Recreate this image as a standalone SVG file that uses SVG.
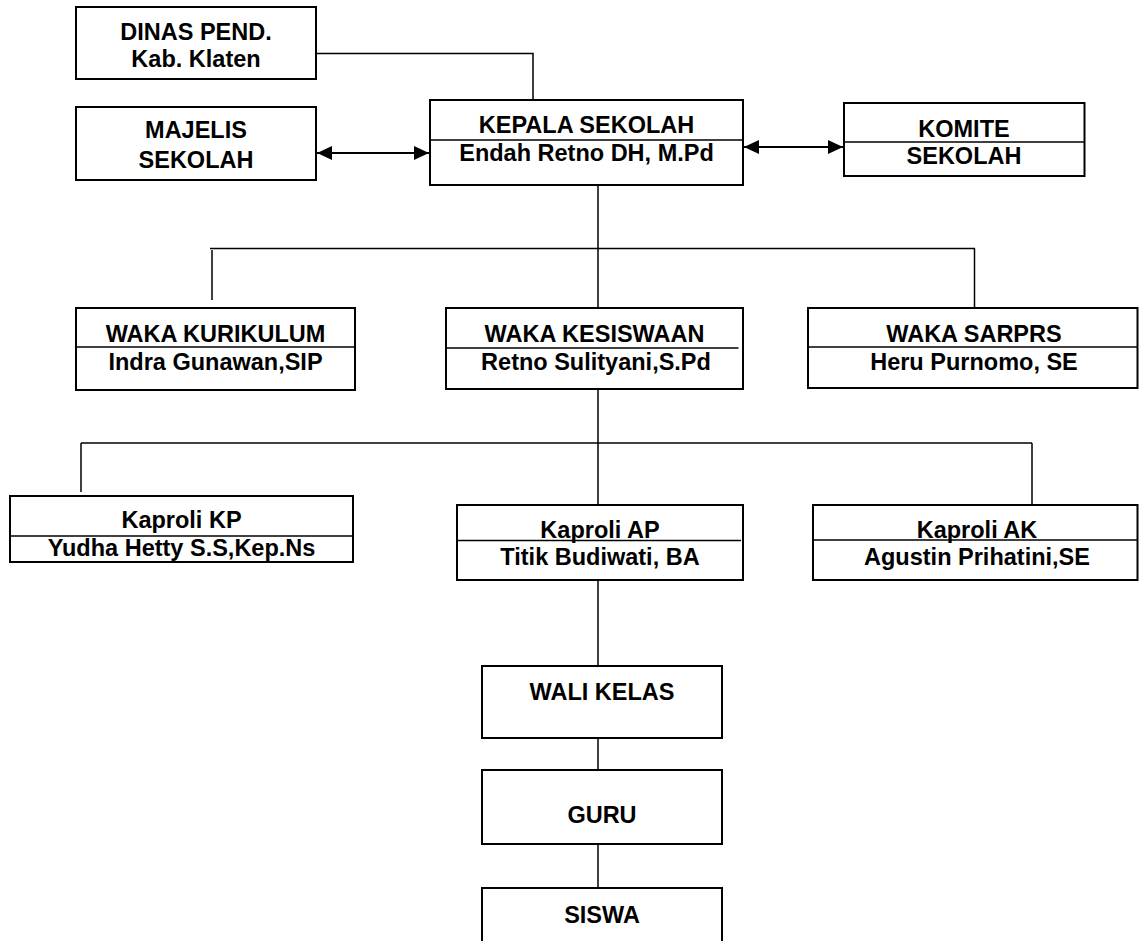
<svg xmlns="http://www.w3.org/2000/svg" width="1139" height="941" viewBox="0 0 1139 941">
<style>
.box{fill:#fff;stroke:#000;stroke-width:2}
.div{stroke:#000;stroke-width:1.3;fill:none}
.con{stroke:#000;stroke-width:1.5;fill:none}
.arr{stroke:#000;stroke-width:2;fill:none}
text{font-family:"Liberation Sans",Arial,sans-serif;font-weight:bold;font-size:23.5px;fill:#000;text-anchor:middle}
</style>
<defs>
<marker id="ah" viewBox="0 0 15 14" refX="15" refY="7" markerWidth="15" markerHeight="14" markerUnits="userSpaceOnUse" orient="auto-start-reverse">
<path d="M0,0 L15,7 L0,14 Z" fill="#000"/>
</marker>
</defs>
<rect width="1139" height="941" fill="#fff"/>
<g id="connectors">
<polyline class="con" points="316,53.5 533,53.5 533,100"/>
<line class="arr" x1="317" y1="153" x2="429" y2="153" marker-start="url(#ah)" marker-end="url(#ah)"/>
<line class="arr" x1="744" y1="147" x2="843" y2="147" marker-start="url(#ah)" marker-end="url(#ah)"/>
<line class="con" x1="598" y1="185" x2="598" y2="308"/>
<line class="con" x1="210" y1="248.5" x2="975" y2="248.5"/>
<line class="con" x1="212" y1="250" x2="212" y2="300"/>
<line class="con" x1="974.5" y1="248.5" x2="974.5" y2="308"/>
<line class="con" x1="598" y1="389" x2="598" y2="505"/>
<line class="con" x1="81" y1="443" x2="1032" y2="443"/>
<line class="con" x1="81" y1="443" x2="81" y2="492"/>
<line class="con" x1="1032" y1="443" x2="1032" y2="505"/>
<line class="con" x1="598" y1="580" x2="598" y2="666"/>
<line class="con" x1="598" y1="738" x2="598" y2="770"/>
<line class="con" x1="598" y1="844" x2="598" y2="888"/>
</g>
<g id="dinas">
<rect class="box" x="76" y="7" width="240" height="72"/>
<text x="196" y="40">DINAS PEND.</text>
<text x="196" y="67">Kab. Klaten</text>
</g>
<g id="majelis">
<rect class="box" x="76" y="107" width="240" height="73"/>
<text x="196" y="138">MAJELIS</text>
<text x="196" y="168">SEKOLAH</text>
</g>
<g id="kepala">
<rect class="box" x="430" y="100" width="313" height="85"/>
<line class="div" x1="430" y1="140" x2="743" y2="140"/>
<text x="586.5" y="133">KEPALA SEKOLAH</text>
<text x="586.5" y="161">Endah Retno DH, M.Pd</text>
</g>
<g id="komite">
<rect class="box" x="844" y="103" width="240.5" height="73"/>
<line class="div" x1="844" y1="142" x2="1084.5" y2="142"/>
<text x="964" y="137">KOMITE</text>
<text x="964" y="164">SEKOLAH</text>
</g>
<g id="waka-kurikulum">
<rect class="box" x="76" y="308" width="279" height="82"/>
<line class="div" x1="76" y1="347" x2="355" y2="347"/>
<text x="215.5" y="341.5">WAKA KURIKULUM</text>
<text x="215.5" y="370">Indra Gunawan,SIP</text>
</g>
<g id="waka-kesiswaan">
<rect class="box" x="446" y="308" width="297" height="81"/>
<line class="div" x1="446" y1="348" x2="738.5" y2="348"/>
<text x="594.5" y="341.5">WAKA KESISWAAN</text>
<text x="596" y="370">Retno Sulityani,S.Pd</text>
</g>
<g id="waka-sarprs">
<rect class="box" x="808" y="308" width="329.5" height="80"/>
<line class="div" x1="808" y1="347" x2="1137.5" y2="347"/>
<text x="974" y="341.5">WAKA SARPRS</text>
<text x="974" y="370">Heru Purnomo, SE</text>
</g>
<g id="kaproli-kp">
<rect class="box" x="10" y="496" width="343" height="66"/>
<line class="div" x1="10" y1="536" x2="353" y2="536"/>
<text x="181.5" y="528">Kaproli KP</text>
<text x="181.5" y="556">Yudha Hetty S.S,Kep.Ns</text>
</g>
<g id="kaproli-ap">
<rect class="box" x="457" y="505" width="286" height="75"/>
<line class="div" x1="457" y1="540.5" x2="741" y2="540.5"/>
<text x="600" y="538">Kaproli AP</text>
<text x="600" y="565">Titik Budiwati, BA</text>
</g>
<g id="kaproli-ak">
<rect class="box" x="813" y="505" width="324.5" height="75"/>
<line class="div" x1="813" y1="540" x2="1137.5" y2="540"/>
<text x="977" y="538">Kaproli AK</text>
<text x="977" y="565">Agustin Prihatini,SE</text>
</g>
<g id="wali-kelas">
<rect class="box" x="482" y="666" width="240" height="72"/>
<text x="602" y="700">WALI KELAS</text>
</g>
<g id="guru">
<rect class="box" x="482" y="770" width="240" height="74"/>
<text x="602" y="823">GURU</text>
</g>
<g id="siswa">
<rect class="box" x="482" y="888" width="240" height="60"/>
<text x="602" y="923">SISWA</text>
</g>
</svg>
